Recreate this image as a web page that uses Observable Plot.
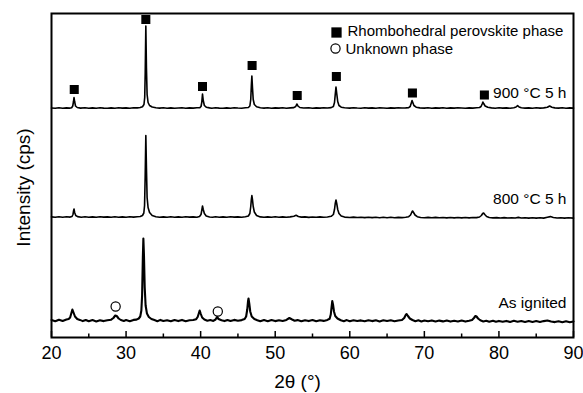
<!DOCTYPE html>
<html><head><meta charset="utf-8">
<script src="https://cdn.jsdelivr.net/npm/d3@7"></script>
<script src="https://cdn.jsdelivr.net/npm/@observablehq/plot@0.6"></script>
<style>body{margin:0;background:#fff}</style>
</head><body><div id="chart"></div>
<script>
const xTicks = [20,30,40,50,60,70,80,90];
const xMinorTicks = [25,35,45,55,65,75,85];
const seriesNames = ["900 °C 5 h","800 °C 5 h","As ignited"];
const legendLabels = ["Rhombohedral perovskite phase","Unknown phase"];
const xLabel = "2θ (°)";
const yLabel = "Intensity (cps)";

const trace900 = [[20,229.5],[20.5,229.2],[21,229.8],[21.5,229.3],[22,229.6],[22.4,229.4],
[22.7,229.8],[22.85,231.5],[22.95,236],[23.02,240],[23.1,236],[23.22,231.5],[23.45,230],
[23.9,229.4],[24.5,229.7],[25,229.2],[25.5,229.6],[26,229.3],[26.5,229.7],[27,229.4],[27.5,229.2],[28,229.6],[28.5,229.3],[29,229.7],[29.5,229.4],[30,229.6],[30.5,229.3],[31,229.8],[31.5,229.6],[31.9,230],
[32.2,230.8],[32.4,233],[32.5,240],[32.57,265],[32.65,311.5],[32.73,270],[32.82,243],[32.95,235],[33.15,232],[33.5,230.5],
[34,229.8],[34.5,229.4],[35,229.7],[35.5,229.3],[36,229.6],[36.5,229.2],[37,229.5],[37.5,229.8],[38,229.3],[38.5,229.6],[39,229.4],[39.5,229.8],[39.9,229.9],
[40.05,231],[40.15,235],[40.25,243.5],[40.35,237],[40.5,232],[40.75,230.3],
[41.2,229.6],[41.5,229.3],[42,229.7],[42.5,229.4],[43,229.2],[43.5,229.6],[44,229.3],[44.5,229.8],[45,229.5],[45.5,229.3],[46,229.7],[46.4,230],
[46.6,231.5],[46.72,238],[46.8,252],[46.87,261.5],[46.95,250],[47.05,238],[47.2,233],[47.5,230.8],
[48,229.7],[48.5,229.4],[49,229.8],[49.5,229.3],[50,229.6],[50.5,229.4],[51,229.7],[51.5,229.3],[52,229.6],[52.5,229.9],
[52.75,231],[52.9,233.5],[53.05,231.5],[53.3,230],
[53.8,229.5],[54.5,229.7],[55,229.3],[55.5,229.6],[56,229.4],[56.5,229.8],[57,229.5],[57.5,229.9],
[57.8,231],[57.95,235],[58.05,243],[58.15,250.5],[58.25,244],[58.38,236],[58.55,232],[58.85,230.3],
[59.3,229.7],[60,229.4],[60.5,229.8],[61,229.5],[61.5,229.3],[62,229.7],[62.5,229.4],[63,229.6],[63.5,229.3],[64,229.7],[64.5,229.5],[65,229.2],[65.5,229.6],[66,229.4],[66.5,229.8],[67,229.5],[67.5,229.6],[67.9,229.9],
[68.1,231],[68.25,234.5],[68.35,237],[68.45,235],[68.6,232],[68.9,230.3],
[69.4,229.6],[70,229.4],[70.5,229.7],[71,229.3],[71.5,229.6],[72,229.4],[72.5,229.7],[73,229.3],[73.5,229.6],[74,229.4],[74.5,229.7],[75,229.5],[75.5,229.3],[76,229.6],[76.5,229.4],[77,229.7],[77.4,230],
[77.6,231],[77.75,233.5],[77.85,235.5],[77.95,234],[78.15,231.5],[78.5,230.2],
[79,229.6],[79.5,229.3],[80,229.7],[80.5,229.4],[81,229.6],[81.5,229.3],[82,229.8],[82.3,230.5],[82.5,231.8],[82.7,230.6],[83,229.7],[83.5,229.4],[84,229.6],[84.5,229.3],[85,229.7],[85.5,229.4],[86,229.6],[86.5,230.2],[86.8,231.5],[87.1,230.3],[87.5,229.6],[88,229.4],[88.5,229.7],[89,229.3],[89.5,229.6],[90,229.4]];

const trace800 = [[20,120.6],[20.5,120.2],[21,120.8],[21.5,120.3],[22,120.7],[22.5,120.4],
[22.75,121],[22.88,123],[22.97,127],[23.02,128.5],[23.1,125],[23.25,122],[23.5,120.9],
[24,120.3],[24.5,120.7],[25,120.2],[25.5,120.6],[26,120.3],[26.5,120.8],[27,120.4],[27.5,120.6],[28,120.2],[28.5,120.7],[29,120.3],[29.5,120.6],[30,120.2],[30.5,120.7],[31,120.4],[31.5,120.8],[31.9,121],
[32.2,122],[32.38,124.5],[32.48,132],[32.56,160],[32.65,202],[32.73,170],[32.82,140],[32.95,130],[33.15,125],[33.5,122],
[34,120.8],[34.5,120.3],[35,120.6],[35.5,120.2],[36,120.7],[36.5,120.3],[37,120.6],[37.5,120.2],[38,120.7],[38.5,120.4],[39,120.6],[39.5,120.3],[39.85,121],
[40.05,123],[40.15,127],[40.25,131.5],[40.35,128],[40.5,124],[40.75,121.5],
[41.2,120.5],[41.6,120.2],[42,120.7],[42.5,120.3],[43,120.6],[43.5,120.2],[44,120.7],[44.5,120.4],[45,120.6],[45.5,120.3],[46,120.8],[46.4,121.5],
[46.6,124],[46.72,131],[46.8,138],[46.87,142],[46.95,138],[47.05,131],[47.2,125.5],[47.5,122],
[48,120.6],[48.5,120.2],[49,120.6],[49.5,120.2],[50,120.7],[50.5,120.3],[51,120.6],[51.5,120.2],[52,120.6],[52.5,121.3],[52.8,122.2],[53.1,121],[53.5,120.4],[54,120.6],[54.5,120.1],[55,120.5],[55.5,120.2],[56,120.6],[56.5,120.2],[57,120.5],[57.5,121.2],
[57.8,123],[57.95,128],[58.05,134],[58.15,137.5],[58.25,134],[58.38,128],[58.55,124],[58.85,121.5],
[59.3,120.4],[60,120],[60.5,120.4],[61,120],[61.5,120.3],[62,119.9],[62.5,120.3],[63,119.9],[63.5,120.2],[64,119.8],[64.5,120.2],[65,119.8],[65.5,120.2],[66,119.8],[66.5,120.1],[67,119.9],[67.5,120.2],[67.9,120.8],
[68.15,122.5],[68.3,125],[68.42,126.5],[68.55,125],[68.75,122.5],[69.05,120.8],
[69.5,120],[70,119.7],[70.5,120.1],[71,119.7],[71.5,120.1],[72,119.7],[72.5,120],[73,119.6],[73.5,120],[74,119.6],[74.5,120],[75,119.6],[75.5,120],[76,119.6],[76.5,120],[77,119.9],[77.4,120.5],
[77.65,122],[77.82,124],[77.95,124.5],[78.1,123],[78.35,121],[78.7,120],
[79.2,119.6],[79.7,119.9],[80.2,119.5],[80.7,119.9],[81.2,119.5],[81.7,119.8],[82.2,119.5],[82.6,120.1],[83,119.5],[83.5,119.8],[84,119.4],[84.5,119.8],[85,119.4],[85.5,119.8],[86,119.4],[86.5,120.2],[86.9,120.9],[87.3,120],[87.8,119.5],[88.3,119.8],[88.8,119.4],[89.3,119.7],[90,119.4]];

const traceAsIgnited = [[20,17.5],[20.5,16.2],[21,17.8],[21.5,16.5],[22,17.9],[22.3,18.5],
[22.5,20],[22.65,24],[22.8,28],[22.95,25],[23.15,21],[23.45,18.5],
[23.8,17.6],[24.2,16.4],[24.6,17.5],[25,16.2],[25.5,17.4],[26,16.1],[26.5,17.2],[27,16.4],[27.5,17.3],[28,17.8],
[28.3,19.5],[28.55,22],[28.75,21.5],[29,19],[29.3,17.5],
[29.7,16.6],[30,17.4],[30.5,16.3],[31,17.6],[31.4,17.9],[31.7,19],
[31.9,21],[32.05,27],[32.15,42],[32.25,80],[32.32,99],[32.4,82],[32.5,50],[32.62,32],[32.8,24],[33.05,20.5],[33.4,18.5],
[33.8,17.4],[34.2,16.3],[34.6,17.6],[35,16.5],[35.5,17.3],[36,16.2],[36.5,17.5],[37,16.4],[37.5,17.6],[38,16.3],[38.5,17.2],[39,17.5],[39.4,18.3],
[39.6,20.5],[39.75,24],[39.87,27],[40,24],[40.2,20],[40.5,18],
[40.9,16.8],[41.3,17.5],[41.7,16.6],[42,18],[42.2,20.5],[42.4,18.5],[42.8,17.2],[43.2,16.4],[43.6,17.5],[44,16.5],[44.5,17.6],[45,16.8],[45.5,17.4],[45.9,18.5],
[46.1,21],[46.25,28],[46.35,36],[46.42,39],[46.52,34],[46.65,26],[46.85,21],[47.2,18.5],
[47.6,17.3],[48,16.2],[48.5,17.4],[49,16.3],[49.5,17.5],[50,16.4],[50.5,17.2],[51,16.5],[51.5,17.6],[51.9,19.5],[52.2,18.3],[52.6,16.8],[53,17.4],[53.5,16.2],[54,17.3],[54.5,16.4],[55,17.5],[55.5,16.3],[56,17.2],[56.5,16.6],[57,17.6],[57.3,18.8],
[57.45,23],[57.55,30],[57.65,36.5],[57.75,33],[57.88,26],[58.05,21.5],[58.35,19],
[58.8,17.2],[59.2,16.3],[59.6,17.4],[60,16.2],[60.5,17.3],[61,16.5],[61.5,17.1],[62,16.2],[62.5,17.3],[63,16.4],[63.5,17.2],[64,16.1],[64.5,17.3],[65,16.5],[65.5,17.2],[66,16.3],[66.5,17.0],[67,17.5],
[67.3,19.5],[67.5,22.5],[67.62,23.5],[67.8,21.5],[68.05,19],[68.4,17.5],
[68.8,16.3],[69.2,17.2],[69.6,16.1],[70,17],[70.5,16.2],[71,17.1],[71.5,16],[72,16.9],[72.5,16.1],[73,17],[73.5,15.9],[74,16.8],[74.5,16],[75,16.9],[75.5,15.9],[76,16.8],[76.4,17.6],
[76.65,19.5],[76.85,21.5],[77,21],[77.2,19],[77.5,17.2],
[77.9,16.1],[78.3,16.8],[78.7,15.8],[79.2,16.7],[79.6,15.7],[80,16.6],[80.5,15.7],[81,16.6],[81.5,15.6],[82,16.7],[82.5,15.8],[83,16.5],[83.5,15.6],[84,16.5],[84.5,15.5],[85,16.4],[85.5,15.5],[86,16.4],[86.5,17],[87,16],[87.5,15.4],[88,16.3],[88.5,15.3],[89,16.2],[89.5,15.3],[90,16]];

const perovskiteMarks = [[23.05,248],[32.65,318],[40.25,251],[46.9,272],[52.95,242],[58.2,261],[68.4,244.5],[78.05,242.5]];
const unknownMarks = [[28.6,31],[42.3,26]];
const labelLift = [14.5,17.5,17];

const traces = [trace900, trace800, traceAsIgnited];
const lineData = traces.slice(0,2).flatMap((t,i)=>t.map(([x,y])=>({x,y,s:seriesNames[i]})));
const lineIgn = traceAsIgnited.map(([x,y])=>({x,y}));
const labelData = traces.map((t,i)=>({name:seriesNames[i], y:t[0][1]+labelLift[i]}));

const plot = Plot.plot({
  width:583, height:393,
  marginLeft:51, marginRight:10, marginTop:13, marginBottom:56,
  style:{fontFamily:"'Liberation Sans', Arial, sans-serif", background:"white", color:"black", overflow:"visible"},
  x:{domain:[20,90]},
  y:{domain:[0,324], axis:null},
  marks:[
    Plot.line(lineData,{x:"x",y:"y",z:"s",stroke:"black",strokeWidth:1.6}),
    Plot.line(lineIgn,{x:"x",y:"y",stroke:"black",strokeWidth:2.1}),
    Plot.dot(perovskiteMarks,{x:d=>d[0],y:d=>d[1],symbol:"square",r:5.1,fill:"black",stroke:"none"}),
    Plot.dot(unknownMarks,{x:d=>d[0],y:d=>d[1],symbol:"circle",r:4.6,fill:"white",stroke:"black",strokeWidth:1.2}),
    Plot.ruleX(xTicks,{x:d=>d,y1:0,y2:6,stroke:"black",strokeWidth:1.5}),
    Plot.ruleX(xMinorTicks,{x:d=>d,y1:0,y2:3.5,stroke:"black",strokeWidth:1.5}),
    Plot.axisX({ticks:xTicks, tickSize:0, tickPadding:9, fontSize:18, label:null, tickFormat:d=>String(d)}),
    Plot.frame({stroke:"black", strokeWidth:2}),
    Plot.text(labelData,{frameAnchor:"right", y:"y", text:"name", textAnchor:"end", dx:-7, fontSize:15.5, lineAnchor:"middle"}),
    Plot.text([yLabel],{text:d=>d, frameAnchor:"left", rotate:-90, dx:-28, dy:12, fontSize:19, textAnchor:"middle", lineAnchor:"middle"}),
    Plot.text([xLabel],{text:d=>d, frameAnchor:"bottom", dx:-15, dy:44.5, fontSize:19, textAnchor:"middle", lineAnchor:"middle"}),
    Plot.dot([legendLabels[0]],{frameAnchor:"top-left", dx:285, dy:19, symbol:"square", r:5.8, fill:"black", stroke:"none"}),
    Plot.dot([legendLabels[1]],{frameAnchor:"top-left", dx:284, dy:35, symbol:"circle", r:4.6, fill:"white", stroke:"black", strokeWidth:1.2}),
    Plot.text([legendLabels[0]],{text:d=>d, frameAnchor:"top-left", dx:296, dy:17.5, textAnchor:"start", fontSize:15, lineAnchor:"middle"}),
    Plot.text([legendLabels[1]],{text:d=>d, frameAnchor:"top-left", dx:294, dy:35.5, textAnchor:"start", fontSize:15, lineAnchor:"middle"})
  ]
});
document.getElementById("chart").appendChild(plot);
</script>
</body></html>
